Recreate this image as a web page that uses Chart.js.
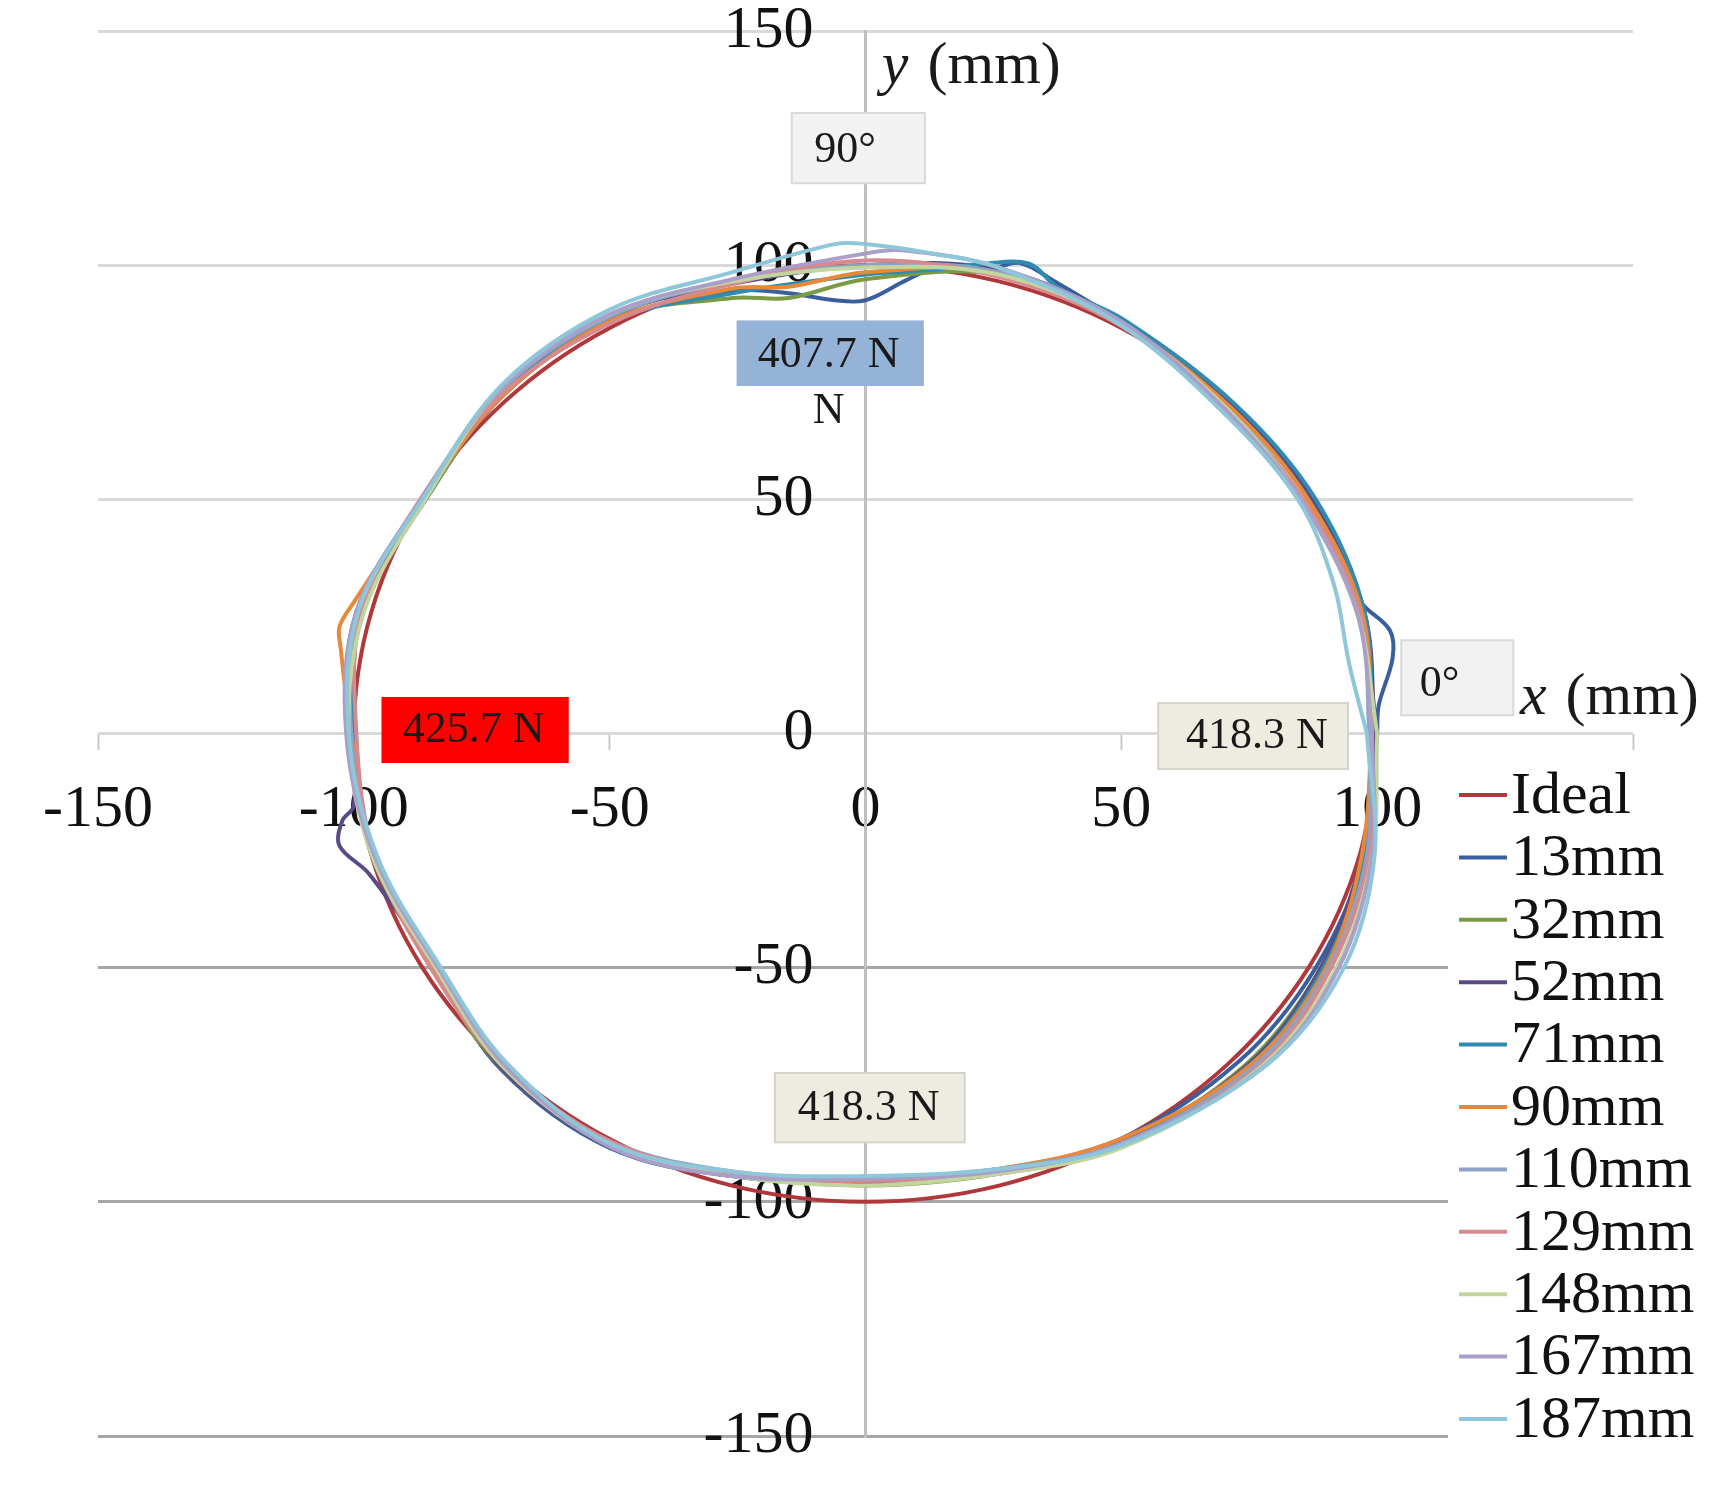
<!DOCTYPE html>
<html>
<head>
<meta charset="utf-8">
<title>Trajectory at each depth</title>
<script src="https://cdn.jsdelivr.net/npm/chart.js@4.4.1/dist/chart.umd.min.js"></script>
<style>
    html, body { margin: 0; padding: 0; background: #ffffff; }
    #wrap { width: 1730px; height: 1503px; }
</style>
</head>
<body>
<div id="wrap"><canvas id="ringChart" width="1730" height="1503"></canvas></div>
<script>
// Axis ticks (mm)
const xTickValues = [-150, -100, -50, 0, 50, 100, 150];
const yTickValues = [-150, -100, -50, 0, 50, 100, 150];

// Series names, as in the legend
const seriesLabels = ['Ideal', '13mm', '32mm', '52mm', '71mm', '90mm', '110mm', '129mm', '148mm', '167mm', '187mm'];

// Points [x, y] in mm
const ideal = [[100,0],[96.6,25.9],[86.6,50],[70.7,70.7],[50,86.6],[25.9,96.6],[0,100],[-25.9,96.6],[-50,86.6],[-70.7,70.7],[-86.6,50],[-96.6,25.9],[-100,0],[-96.6,-25.9],[-86.6,-50],[-70.7,-70.7],[-50,-86.6],[-25.9,-96.6],[0,-100],[25.9,-96.6],[50,-86.6],[70.7,-70.7],[86.6,-50],[96.6,-25.9],[100,0]];
const depth13 = [[100,0],[100.3,6],[103,16],[102.5,22],[96.5,28.5],[88.5,48],[72,69.5],[51,87],[37,96.5],[30,100.5],[24,99],[13,99],[8,96.8],[0,92.5],[-6,92.5],[-15,94],[-26,94.5],[-50,88],[-71,72],[-86.5,49],[-99,25],[-100.5,0],[-96,-26],[-84,-50.5],[-71,-72],[-50,-88.5],[-26,-94.5],[0,-95],[26,-93],[50,-86.5],[73,-70],[88,-50],[97.5,-26],[100,0]];
const depth32 = [[99,0],[97,26],[86.5,50],[71.5,70],[50,88],[26,98],[0,97],[-15,93],[-26,93],[-50,88.5],[-71,72.5],[-86,50],[-99.5,26],[-101,0],[-96,-26],[-84.5,-50],[-71.5,-71],[-50,-88],[-26,-94],[0,-96.5],[26,-94],[50,-87.5],[74,-71],[89,-50],[97.5,-26],[99,0]];
const depth52 = [[99.5,0],[97.5,26],[87.5,50],[72,70],[50.5,88],[26,99],[0,100],[-26,96],[-50,89],[-71,73],[-86,50.5],[-98.5,26],[-100,0],[-100,-15.5],[-102.2,-18.5],[-102.8,-24],[-97,-30],[-84,-50],[-71,-71.5],[-50,-88],[-26,-94.5],[0,-95.5],[26,-93.5],[50,-87],[74.5,-71],[89,-50],[97,-26],[99.5,0]];
const depth71 = [[99,0],[97.5,26],[88,50],[72.5,70],[51,88],[37.5,95.3],[32,100.3],[23,100.3],[13,99],[0,98],[-26,94],[-50,88],[-71,72.5],[-86.5,50],[-99,26],[-100,0],[-96.5,-26],[-84,-50],[-71,-71],[-50,-87.5],[-26,-94.5],[0,-96],[26,-93.5],[50,-87.5],[75,-71],[89.5,-50],[97.5,-26],[99,0]];
const depth90 = [[99,0],[97,26],[86.5,50],[71.5,69.5],[50,87.5],[26,98.5],[0,98.5],[-15,95.4],[-26,95],[-50,88],[-71,72],[-86.5,50],[-100,28],[-102.8,22.8],[-102.6,18.5],[-100.5,0],[-96,-26],[-84.5,-50],[-71,-71],[-50,-88],[-26,-94],[0,-95.5],[26,-93],[50,-86.5],[75.5,-70.5],[90,-50],[97,-26],[99,0]];
const depth110 = [[98.5,0],[96.5,26],[85.5,50],[70.5,69.5],[49.5,87.5],[26,98.5],[0,100],[-26,96.5],[-50,89],[-71,73.5],[-86.5,50.5],[-99,26],[-100.5,0],[-96,-26],[-83.5,-50],[-70.5,-71],[-50,-87],[-26,-93.5],[0,-95],[26,-93],[50,-87.5],[76,-71],[90.5,-50],[98,-26],[98.5,0]];
const depth129 = [[99,0],[96.5,26],[85.5,50],[70.5,69],[50,87],[26,97.5],[0,101],[-26,96],[-50,87.5],[-71,72.5],[-87,50],[-98.5,26],[-99.5,0],[-96,-26],[-85,-50],[-71,-70.5],[-50,-87],[-26,-94],[0,-95.5],[26,-94],[50,-88],[77,-71],[91,-50],[98.5,-26],[99,0]];
const depth148 = [[100,0],[96,26],[85,50],[70.5,69.5],[50,87.5],[26,98],[0,99.5],[-26,96.5],[-50,89.5],[-71,74],[-86,50],[-98,26],[-101,0],[-96.5,-26],[-84,-50],[-70.5,-71.5],[-50,-88],[-26,-94.5],[0,-96.5],[26,-94],[50,-88.5],[77.5,-71],[92,-50],[99,-26],[100,0]];
const depth167 = [[99,0],[96,26],[85,50],[70,69.5],[50,88],[26,99.5],[7,103.2],[0,102.5],[-26,97],[-50,89.5],[-71,74],[-86.5,50.5],[-99.5,26],[-101.5,0],[-96,-26],[-83.5,-50],[-70,-71.5],[-49.5,-88.5],[-26,-94.5],[0,-95],[26,-93.5],[50,-87.5],[78,-71],[92.5,-50],[99,-26],[99,0]];
const depth187 = [[98,0],[94.5,15],[91.5,32],[84.5,50],[69.5,69],[49.5,87.5],[26,99.5],[13,102.5],[0,104.5],[-6,104.5],[-26,98.5],[-50,90.5],[-71,74.5],[-86,51],[-99,26.5],[-101,0],[-95.5,-26],[-83,-50],[-70,-70.5],[-50,-87.5],[-26,-93.5],[0,-94.5],[26,-93],[50,-88],[78.5,-70.7],[93.5,-50],[99.5,-26],[98,0]];

const seriesPoints = [ideal, depth13, depth32, depth52, depth71, depth90, depth110, depth129, depth148, depth167, depth187];

// Excel-like palette
const seriesColors = ['#b0383b', '#3a5f9e', '#7a9a45', '#5a4a86', '#2f8cb0', '#e8893a',
                      '#8ea2c6', '#d68a8e', '#c3d59f', '#a99fc8', '#8ec6da'];

// Call-out boxes, placed in axis units
const noteTexts = ['90°', '407.7 N', '425.7 N', '418.3 N', '0°', '418.3 N'];
const noteFills = ['#f2f2f2', '#95b3d7', '#ff0000', '#eeece1', '#f2f2f2', '#eeece1'];

const SERIF = '"Liberation Serif", "Times New Roman", serif';

const noteBoxes = [
    { x0: -14.4, x1: 11.6, y0: 117.5, y1: 132.5, tx: -4.0, ty: 124.5, border: '#d9d9d9' },
    { x0: -25.2, x1: 11.4, y0: 74.2, y1: 88.2, tx: -7.2, ty: 80.8, border: null },
    { x0: -94.6, x1: -58.0, y0: -6.3, y1: 7.8, tx: -76.6, ty: 0.7, border: null },
    { x0: 57.2, x1: 94.3, y0: -7.6, y1: 6.5, tx: 76.5, ty: -0.6, border: '#d6d4ca' },
    { x0: 104.7, x1: 126.6, y0: 3.9, y1: 19.9, tx: 112.2, ty: 10.5, border: '#d9d9d9' },
    { x0: -17.7, x1: 19.4, y0: -87.3, y1: -72.5, tx: 0.6, ty: -80.0, border: '#d6d4ca' }
];

function toPoints(list) {
    return list.map(p => ({ x: p[0], y: p[1] }));
}

const notesPlugin = {
    id: 'notes',
    afterDatasetsDraw(chart) {
        const { ctx, scales } = chart;
        const xs = scales.x;
        const ys = scales.y;
        ctx.save();
        noteBoxes.forEach((box, i) => {
            const left = xs.getPixelForValue(box.x0);
            const right = xs.getPixelForValue(box.x1);
            const top = ys.getPixelForValue(box.y1);
            const bottom = ys.getPixelForValue(box.y0);
            ctx.fillStyle = noteFills[i];
            ctx.fillRect(left, top, right - left, bottom - top);
            if (box.border) {
                ctx.strokeStyle = box.border;
                ctx.lineWidth = 2;
                ctx.strokeRect(left, top, right - left, bottom - top);
            }
            ctx.fillStyle = '#1a1a1a';
            ctx.font = '44px ' + SERIF;
            ctx.textAlign = 'center';
            ctx.textBaseline = 'middle';
            ctx.fillText(noteTexts[i], xs.getPixelForValue(box.tx), ys.getPixelForValue(box.ty));
        });

        // stray unit under the blue box
        ctx.fillText('N', xs.getPixelForValue(-7.2), ys.getPixelForValue(68.8));

        // axis titles
        ctx.textAlign = 'left';
        ctx.font = 'italic 60px ' + SERIF;
        const yx = xs.getPixelForValue(3.2);
        const yy = ys.getPixelForValue(142.3);
        ctx.fillText('y', yx, yy);
        const yw = ctx.measureText('y ').width;
        ctx.font = '60px ' + SERIF;
        ctx.fillText('(mm)', yx + yw + 4, yy);

        ctx.font = 'italic 60px ' + SERIF;
        const xx = xs.getPixelForValue(127.9);
        const xy = ys.getPixelForValue(7.5);
        ctx.fillText('x', xx, xy);
        const xw = ctx.measureText('x ').width;
        ctx.font = '60px ' + SERIF;
        ctx.fillText('(mm)', xx + xw + 4, xy);
        ctx.restore();
    }
};

const legendPlugin = {
    id: 'sideLegend',
    afterDraw(chart) {
        const { ctx } = chart;
        ctx.save();
        // legend sits over the lower right of the plot
        ctx.fillStyle = '#ffffff';
        ctx.fillRect(1448, 752, 282, 751);
        ctx.font = '60px ' + SERIF;
        ctx.textAlign = 'left';
        ctx.textBaseline = 'middle';
        chart.data.datasets.forEach((ds, i) => {
            const y = 795 + i * 62.4;
            ctx.strokeStyle = ds.borderColor;
            ctx.lineWidth = 4;
            ctx.beginPath();
            ctx.moveTo(1459, y);
            ctx.lineTo(1507, y);
            ctx.stroke();
            ctx.fillStyle = '#111111';
            ctx.fillText(ds.label, 1511, y + 2);
        });
        ctx.restore();
    }
};

const datasets = seriesLabels.map((label, i) => ({
    label: label,
    data: toPoints(seriesPoints[i]),
    showLine: true,
    borderColor: seriesColors[i],
    backgroundColor: seriesColors[i],
    borderWidth: 4,
    pointRadius: 0,
    tension: 0.35,
    fill: false,
    // later series are drawn on top, as in the original
    order: seriesLabels.length - i
}));

const ctx = document.getElementById('ringChart').getContext('2d');
const ringChart = new Chart(ctx, {
    type: 'scatter',
    data: { datasets: datasets },
    options: {
        responsive: false,
        animation: false,
        devicePixelRatio: 1,
        layout: {
            padding: { left: 98, right: 97, top: 31, bottom: 67 }
        },
        plugins: {
            legend: { display: false },
            tooltip: { enabled: false }
        },
        scales: {
            x: {
                type: 'linear',
                position: 'center',
                min: -150,
                max: 150,
                afterBuildTicks: scale => {
                    scale.ticks = xTickValues.map(v => ({ value: v }));
                },
                grid: {
                    drawOnChartArea: false,
                    drawTicks: true,
                    tickLength: 16,
                    tickWidth: 2,
                    tickColor: '#c8c8c8'
                },
                border: { display: false },
                ticks: {
                    color: '#111111',
                    padding: 31,
                    maxRotation: 0,
                    autoSkip: false,
                    font: { family: SERIF, size: 60, lineHeight: 1.0 }
                }
            },
            y: {
                type: 'linear',
                position: 'center',
                min: -150,
                max: 150,
                afterBuildTicks: scale => {
                    scale.ticks = yTickValues.map(v => ({ value: v }));
                },
                grid: {
                    // invisible tick marks give the label gap without padding the layout
                    drawTicks: true,
                    tickLength: 52,
                    tickColor: 'rgba(0,0,0,0)',
                    lineWidth: 3,
                    color: c => (c.tick && c.tick.value < 0 ? '#a6a6a6' : '#d9d9d9')
                },
                border: { display: true, color: '#bfbfbf', width: 3 },
                ticks: {
                    color: '#111111',
                    padding: 0,
                    autoSkip: false,
                    font: { family: SERIF, size: 60, lineHeight: 1.0 }
                }
            }
        }
    },
    plugins: [notesPlugin, legendPlugin]
});
</script>
</body>
</html>
